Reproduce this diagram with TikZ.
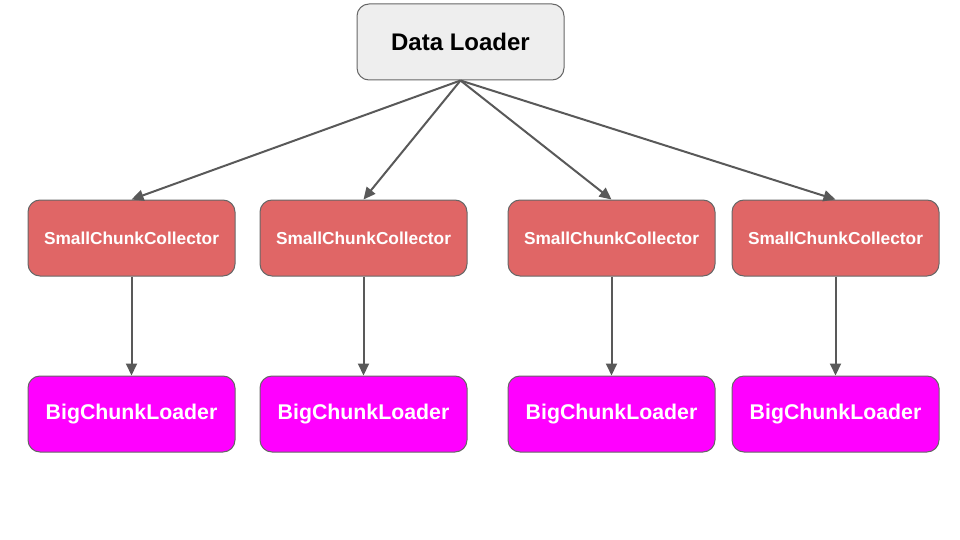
\documentclass[tikz,border=0pt]{standalone}
\usepackage{fontspec}
\setmainfont{Liberation Sans}
\usetikzlibrary{arrows.meta}
\definecolor{boxgray}{HTML}{EEEEEE}
\definecolor{boxred}{HTML}{E06666}
\definecolor{boxmag}{HTML}{FF00FF}
\definecolor{edgegray}{HTML}{666666}
\definecolor{arrowgray}{HTML}{595959}
\tikzset{
  base/.style={draw=edgegray, line width=1pt, rounded corners=12pt,
    minimum width=207pt, minimum height=76pt, inner sep=0pt, align=center},
  loader/.style={base, fill=boxgray, font=\bfseries\fontsize{24}{28}\selectfont},
  collector/.style={base, fill=boxred, text=white, font=\bfseries\fontsize{17.3}{20}\selectfont},
  bigload/.style={base, fill=boxmag, text=white, font=\bfseries\fontsize{21.3}{25}\selectfont},
  conn/.style={draw=arrowgray, line width=2pt, -{Triangle[length=12pt,width=11pt]}}
}
\begin{document}
\begin{tikzpicture}[x=1pt,y=-1pt]
\useasboundingbox (0,0) rectangle (960,540);
\node[loader] (dl) at (460.5,42) {Data Loader};
\node[collector] (c1) at (131.5,238) {SmallChunkCollector};
\node[collector] (c2) at (363.5,238) {SmallChunkCollector};
\node[collector] (c3) at (611.5,238) {SmallChunkCollector};
\node[collector] (c4) at (835.5,238) {SmallChunkCollector};
\node[bigload] (b1) at (131.5,414) {BigChunkLoader};
\node[bigload] (b2) at (363.5,414) {BigChunkLoader};
\node[bigload] (b3) at (611.5,414) {BigChunkLoader};
\node[bigload] (b4) at (835.5,414) {BigChunkLoader};
\draw[conn] (dl.south) -- (c1.north);
\draw[conn] (dl.south) -- (c2.north);
\draw[conn] (dl.south) -- (c3.north);
\draw[conn] (dl.south) -- (c4.north);
\draw[conn] (c1) -- (b1);
\draw[conn] (c2) -- (b2);
\draw[conn] (c3) -- (b3);
\draw[conn] (c4) -- (b4);
\end{tikzpicture}
\end{document}
